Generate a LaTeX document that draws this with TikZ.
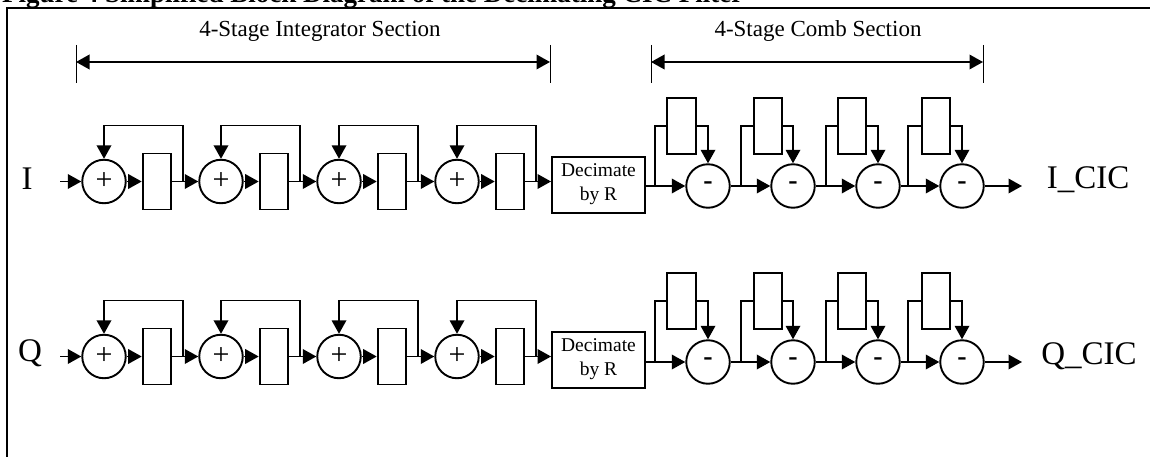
\documentclass[tikz,border=0pt]{standalone}
\usepackage{fontspec}
\setmainfont{Liberation Serif}
\usetikzlibrary{arrows.meta,positioning}
\tikzset{
  wire/.style={line width=1.9pt},
  adder/.style={draw,wire,circle,minimum size=43.5pt,inner sep=0pt},
  delay/.style={draw,wire,minimum width=28.5pt,minimum height=56pt,inner sep=0pt},
  dec/.style={draw,wire,minimum width=93pt,minimum height=56pt,inner sep=0pt,align=center,text depth=5pt,font=\fontsize{19.5}{24}\selectfont},
  sect/.style={font=\fontsize{23}{24}\selectfont},
  sig/.style={font=\fontsize{33}{36}\selectfont}
}
\begin{document}
\begin{tikzpicture}[x=1pt,y=-1pt,>={Triangle[length=13.5pt,width=14.5pt]}]
  \useasboundingbox (0,0) rectangle (1150,457);
  \node[anchor=base west,inner sep=0pt,font=\fontsize{27}{30}\selectfont\bfseries] (title) at (2,3) {Figure 4 Simplified Block Diagram of the Decimating CIC Filter};
  \draw[line width=2pt] (1150,8) -- (7,8) -- (7,457);

  % section spans
  \node[sect] (intsec) at (320,31) {4-Stage Integrator Section};
  \node[sect] (combsec) at (818,31) {4-Stage Comb Section};
  \foreach \n/\tx in {a/76,b/550,c/651,d/983}{
    \coordinate (top\n) at (\tx,45);
    \coordinate (bot\n) at (\tx,83);
    \coordinate (mid\n) at (\tx,62);
    \draw[line width=1pt] (top\n) -- (bot\n);
  }
  \draw[wire,<->] (mida) -- (midb);
  \draw[wire,<->] (midc) -- (midd);

  \foreach \r/\ry/\cy/\dy/\lab/\out/\lx/\ox in {i/181.5/186/126/I/I\_CIC/27/1088,q/356.5/362/301/Q/Q\_CIC/30/1089}{
    \node[sig] (in\r) at (\lx,\ry-3) {\lab};
    \node[sig] (out\r) at (\ox,\cy-6) {\out};
    \coordinate (start\r) at (60,\ry);
    \coordinate (end\r) at (1022,\cy);

    % integrator stages
    \foreach \s/\ax in {1/104,2/221,3/339,4/457}{
      \node[adder] (add\r\s) at (\ax,\ry) {\fontsize{30}{30}\selectfont\raisebox{-3pt}{+}};
      \node[delay,right=15pt of add\r\s] (box\r\s) {};
      \draw[wire,->] (add\r\s) -- (box\r\s);
      \draw[wire,->] (box\r\s.east) -- ++(11,0) -- ++(0,-56) -| (add\r\s.north);
    }
    \foreach \s/\n in {1/2,2/3,3/4}
      \draw[wire,->] (box\r\s) -- (add\r\n);
    \draw[wire,->] (start\r) -- (add\r1);

    \node[dec] (decim\r) at (598.5,\ry+3.5) {Decimate\\by R};
    \draw[wire,->] (box\r4.east) -- (decim\r.west|-box\r4.east);

    % comb stages
    \foreach \s/\cx/\dx/\tx in {1/708/681.5/655,2/793/768/741,3/878/852/826,4/962/936/908}{
      \node[adder] (sub\r\s) at (\cx,\cy) {\fontsize{28}{28}\selectfont\bfseries\raisebox{-1pt}{-}};
      \node[delay] (cell\r\s) at (\dx,\dy) {};
      \coordinate (tap\r\s) at (\tx,\cy);
      \draw[wire] (tap\r\s) |- (cell\r\s.west);
      \draw[wire,->] (cell\r\s.east) -| (sub\r\s.north);
    }
    \draw[wire,->] (decim\r.east|-sub\r1) -- (sub\r1);
    \foreach \s/\n in {1/2,2/3,3/4}
      \draw[wire,->] (sub\r\s) -- (sub\r\n);
    \draw[wire,->] (sub\r4) -- (end\r);
  }
\end{tikzpicture}
\end{document}
